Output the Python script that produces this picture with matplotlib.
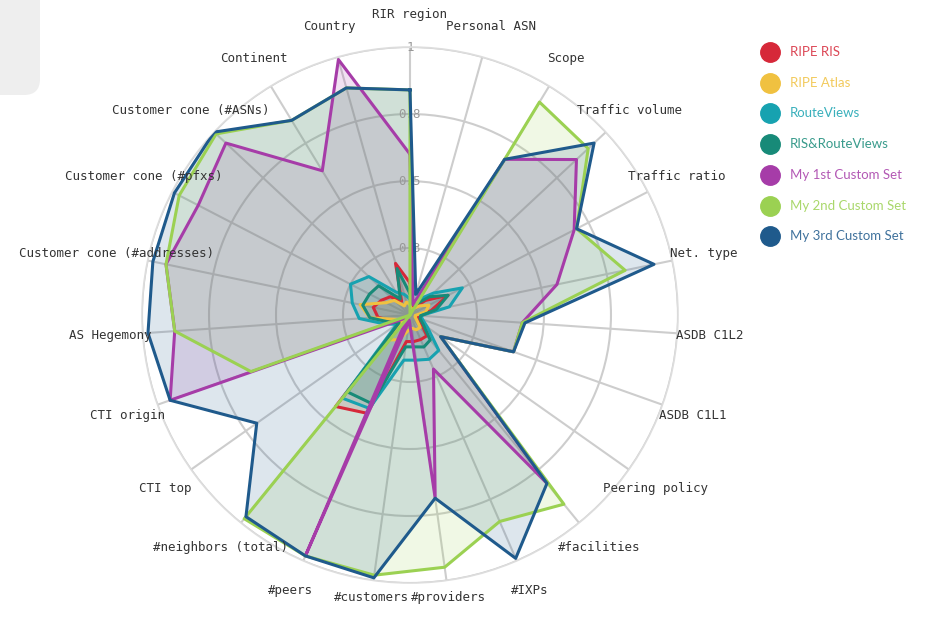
import numpy as np
import matplotlib.pyplot as plt
from matplotlib.patches import FancyBboxPatch

# dimensions, clockwise from the top
categories = ["RIR region", "Personal ASN", "Scope", "Traffic volume", "Traffic ratio",
              "Net. type", "ASDB C1L2", "ASDB C1L1", "Peering policy", "#facilities",
              "#IXPs", "#providers", "#customers", "#peers", "#neighbors (total)",
              "CTI top", "CTI origin", "AS Hegemony", "Customer cone (#addresses)",
              "Customer cone (#pfxs)", "Customer cone (#ASNs)", "Continent", "Country"]

ripe_ris = [0.12, 0.03, 0.04, 0.08, 0.16, 0.08, 0.03, 0.03, 0.05, 0.10, 0.10, 0.10,
            0.10, 0.40, 0.44, 0.04, 0.07, 0.12, 0.14, 0.12, 0.10, 0.06, 0.20]
ripe_atlas = [0.04, 0.02, 0.03, 0.05, 0.08, 0.06, 0.02, 0.02, 0.03, 0.06, 0.06, 0.05,
              0.06, 0.10, 0.12, 0.03, 0.05, 0.15, 0.19, 0.10, 0.08, 0.04, 0.05]
routeviews = [0.06, 0.10, 0.07, 0.12, 0.22, 0.15, 0.04, 0.05, 0.08, 0.17, 0.18, 0.17,
              0.17, 0.38, 0.40, 0.06, 0.10, 0.19, 0.22, 0.25, 0.21, 0.10, 0.08]
ris_routeviews = [0.08, 0.04, 0.05, 0.10, 0.16, 0.10, 0.04, 0.04, 0.06, 0.12, 0.13, 0.12,
                  0.12, 0.36, 0.37, 0.05, 0.08, 0.15, 0.18, 0.17, 0.16, 0.07, 0.18]
custom_1 = [0.60, 0.04, 0.68, 0.85, 0.69, 0.56, 0.42, 0.41, 0.14, 0.81, 0.22, 0.69,
            0.02, 0.98, 0.02, 0.02, 0.95, 0.88, 0.93, 0.89, 0.94, 0.63, 0.99]
custom_2 = [0.84, 0.00, 0.93, 0.91, 0.70, 0.82, 0.42, 0.41, 0.14, 0.91, 0.84, 0.95,
            0.98, 0.98, 0.98, 0.00, 0.63, 0.88, 0.93, 0.97, 0.99, 0.85, 0.88]
custom_3 = [0.84, 0.08, 0.68, 0.94, 0.70, 0.93, 0.43, 0.41, 0.14, 0.81, 0.99, 0.69,
            0.99, 0.98, 0.97, 0.70, 0.95, 0.98, 0.98, 0.99, 1.00, 0.85, 0.88]

names = ["RIPE RIS", "RIPE Atlas", "RouteViews", "RIS&RouteViews",
         "My 1st Custom Set", "My 2nd Custom Set", "My 3rd Custom Set"]
colors = ["#d62839", "#f0c140", "#17a2b0", "#178a78", "#a63ca8", "#9bd152", "#1f5a8c"]
series = [ripe_ris, ripe_atlas, routeviews, ris_routeviews, custom_1, custom_2, custom_3]

r_ticks = [0.25, 0.5, 0.75, 1.0]
r_tick_labels = ["0.3", "0.5", "0.8", "1"]

n = len(categories)
theta = np.linspace(0, 2 * np.pi, n, endpoint=False)
t_closed = np.append(theta, theta[0])

fig = plt.figure(figsize=(9.3, 6.22), dpi=100)
ax = fig.add_axes([0.1527, 0.0627, 0.5763, 0.8617], projection="polar")
ax.set_theta_zero_location("N")
ax.set_theta_direction(-1)
ax.set_ylim(0, 1)
ax.set_facecolor("white")

ax.set_xticks(theta)
ax.set_xticklabels([])
ax.set_yticks(r_ticks)
ax.set_yticklabels([])
ax.grid(color="#cdcdcd", lw=1.5)
ax.spines["polar"].set_color("#dddddd")
ax.spines["polar"].set_linewidth(1.2)

# fills below, outlines on top
for vals, col in zip(series, colors):
    v = np.append(vals, vals[0])
    ax.fill(t_closed, v, color=col, alpha=0.15, lw=0, zorder=2)
for vals, col in zip(series, colors):
    v = np.append(vals, vals[0])
    ax.plot(t_closed, v, color=col, lw=2.2, zorder=3)

# category labels
for t, lab in zip(theta, categories):
    rr = 1.065 if lab in ("#customers", "#providers") else 1.12
    ax.text(t, rr, lab, ha="center", va="center", fontsize=9,
            family="DejaVu Sans Mono", color="#333333")

for r, s in zip(r_ticks, r_tick_labels):
    ax.text(0, r, s, ha="center", va="center", fontsize=9,
            family="DejaVu Sans Mono", color="#999999", zorder=2.5)

# legend + corner tab, in pixel coords
lax = fig.add_axes([0, 0, 1, 1])
lax.set_xlim(0, 930)
lax.set_ylim(622, 0)
lax.axis("off")
lax.add_patch(FancyBboxPatch((-20, -20), 60, 115, boxstyle="round,pad=0,rounding_size=16",
                             color="#eeeeee", lw=0))
for i, (name, col) in enumerate(zip(names, colors)):
    y = 52 + 30.7 * i
    lax.plot(770, y, "o", ms=14, color=col)
    lax.text(790, y, name, va="center", ha="left", fontsize=9.5,
             family="Lato", color=col, alpha=0.85)

fig.savefig("out.png", dpi=100)
